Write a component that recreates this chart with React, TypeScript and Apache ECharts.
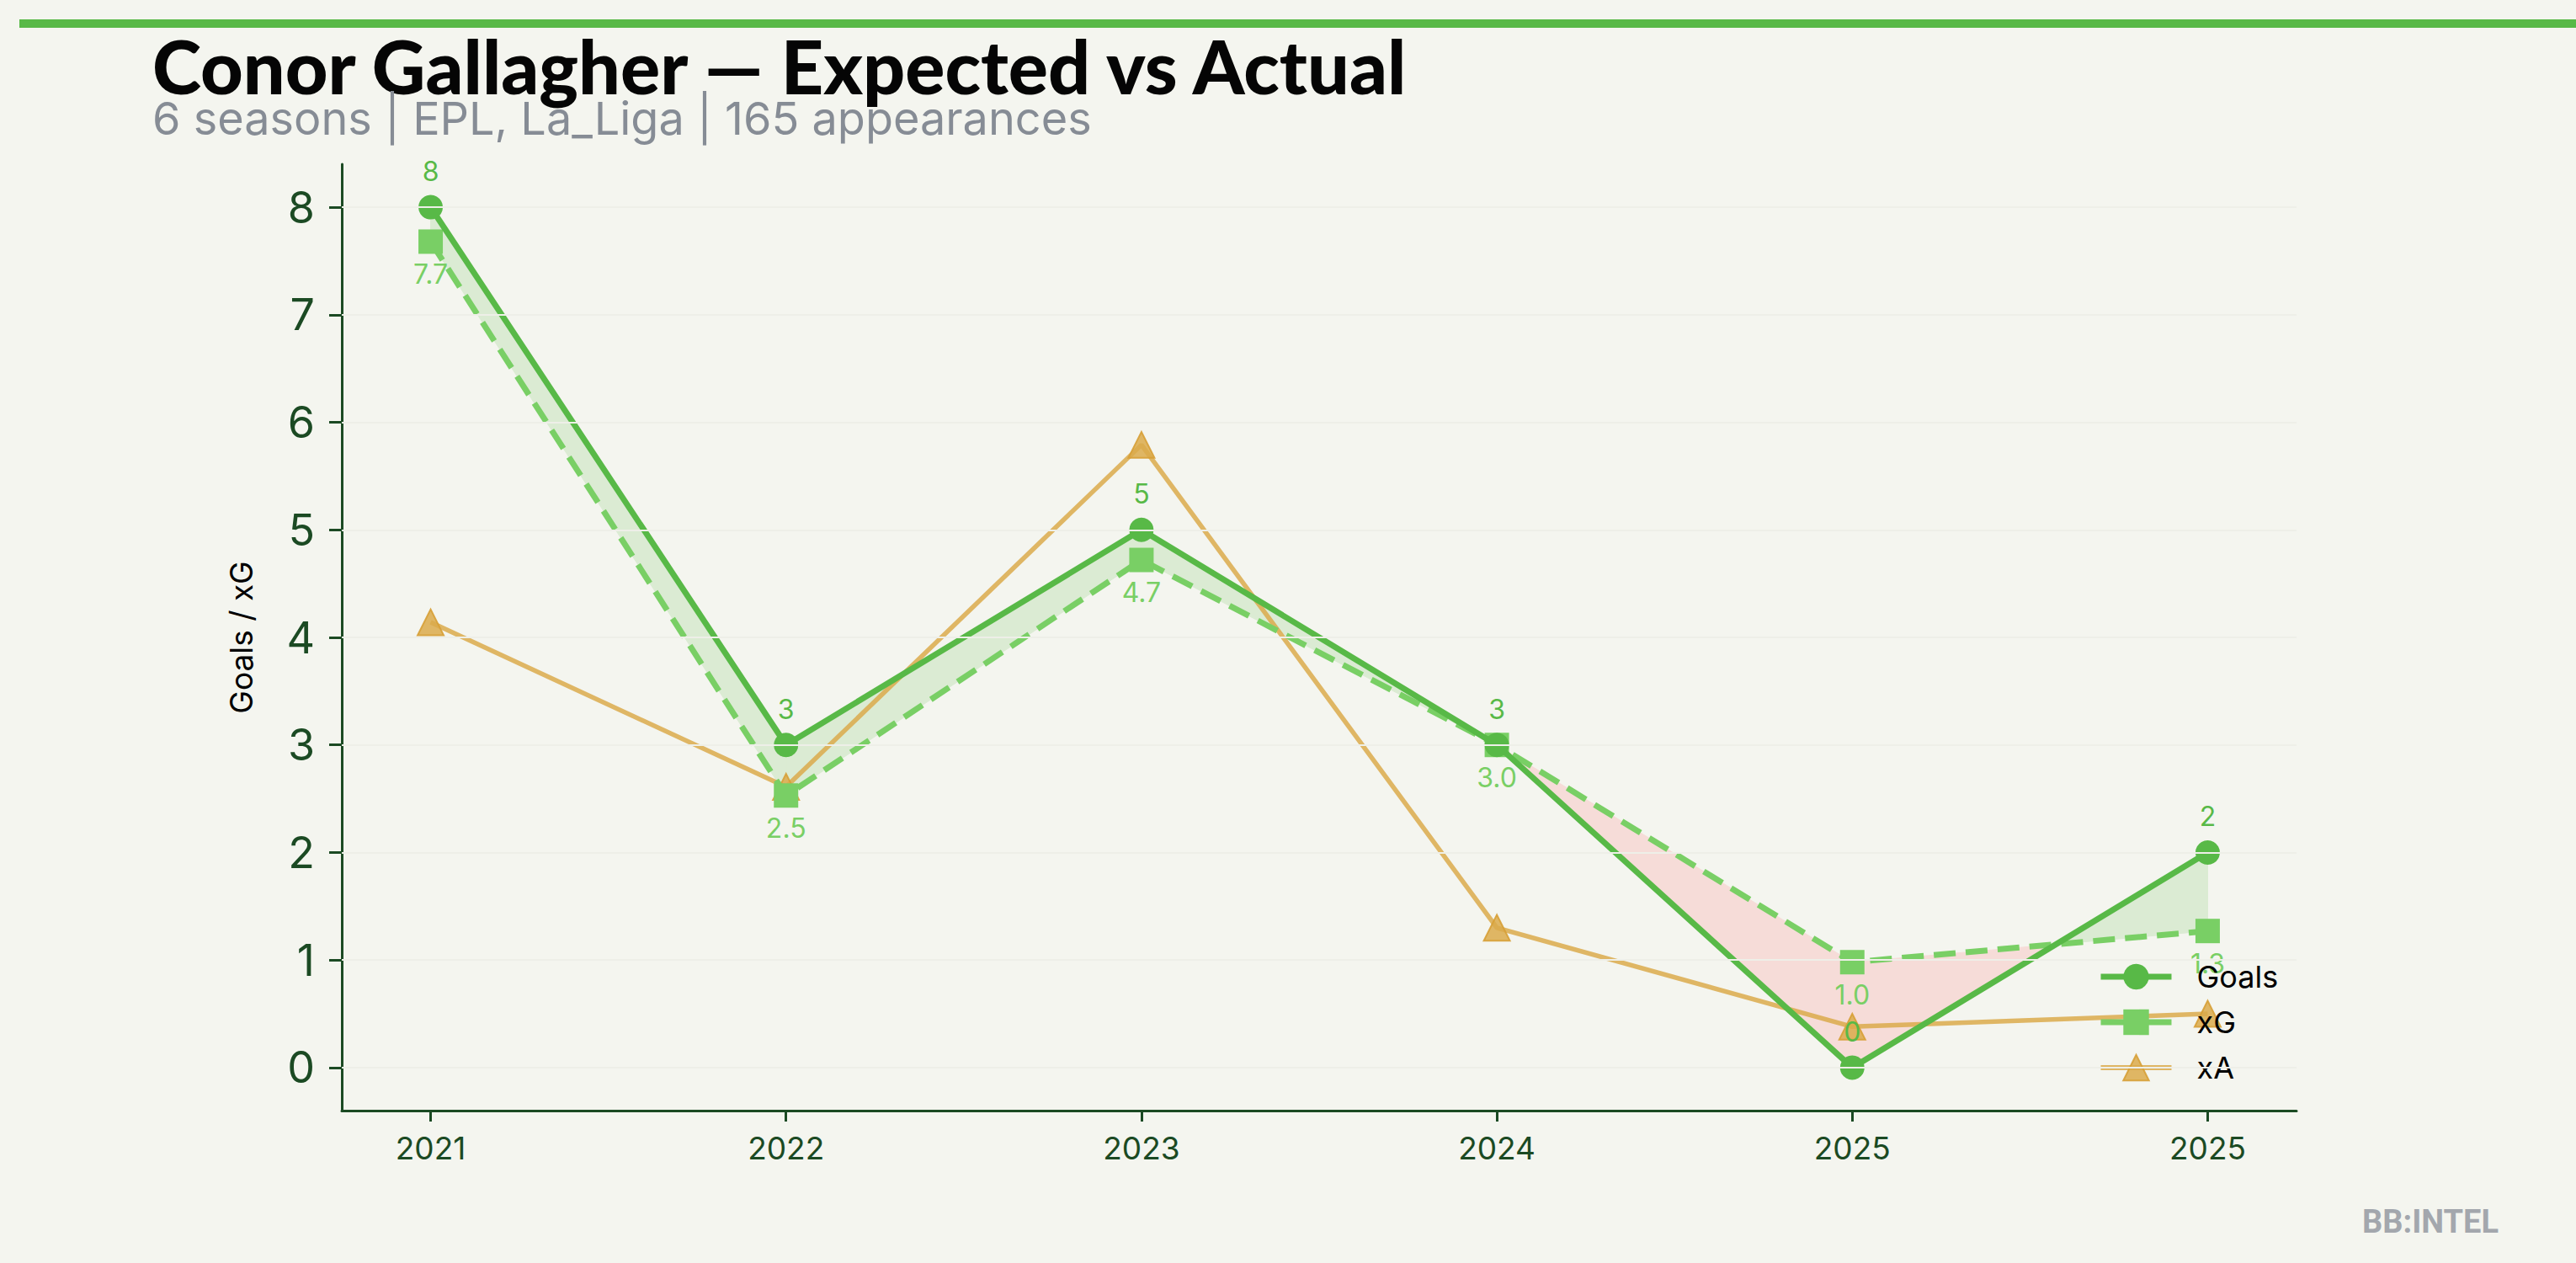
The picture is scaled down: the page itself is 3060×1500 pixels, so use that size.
import React, { useEffect, useRef } from "react";
import * as echarts from "echarts";

const seasons = ["2021", "2022", "2023", "2024", "2025", "2025"];
const goals = [8, 3, 5, 3, 0, 2];
const xg = [7.68, 2.53, 4.72, 3.0, 0.98, 1.27];
const xa = [4.14, 2.61, 5.79, 1.3, 0.38, 0.5];
const yTicks = [0, 1, 2, 3, 4, 5, 6, 7, 8];
const xTicks = [0, 1, 2, 3, 4, 5];

const BG = "#f4f5ef";
const GREEN = "#58b947";
const LIGHT_GREEN = "#79cf65";
const GOLD = "rgba(218,170,75,0.85)";
const AXIS = "#1b4a23";
const FILL_UP = "#dbebd3";
const FILL_DOWN = "#f6dcd8";

export default function App() {
  const ref = useRef<HTMLDivElement>(null);
  useEffect(() => {
    document.body.style.margin = "0";
    document.body.style.background = BG;
    const chart = echarts.init(ref.current!, null, { renderer: "svg" });
    const n = goals.length;
    const option: any = {
      animation: false,
      backgroundColor: BG,
      grid: { left: 406, right: 332, top: 195, bottom: 181 },
      xAxis: {
        type: "value",
        min: -0.25,
        max: 5.25,
        splitLine: { show: false },
        axisLine: { show: true, onZero: false, lineStyle: { color: AXIS, width: 3 } },
        axisTick: { show: true, customValues: xTicks, length: 13, lineStyle: { color: AXIS, width: 3 } },
        axisLabel: {
          customValues: xTicks,
          formatter: (v: number) => seasons[Math.round(v)],
          color: AXIS,
          fontSize: 37,
          fontFamily: "Inter",
          margin: 26,
        },
      },
      yAxis: {
        type: "value",
        min: -0.4,
        max: 8.4,
        name: "Goals / xG",
        nameLocation: "middle",
        nameRotate: 90,
        nameGap: 101,
        nameTextStyle: { color: "#000", fontSize: 37, fontFamily: "Inter" },
        splitLine: { show: false },
        axisLine: { show: true, onZero: false, lineStyle: { color: AXIS, width: 3 } },
        axisTick: { show: true, customValues: yTicks, length: 15, lineStyle: { color: AXIS, width: 3 } },
        axisLabel: {
          customValues: yTicks,
          color: AXIS,
          fontSize: 52,
          fontFamily: "Inter",
          margin: 32,
        },
      },
      legend: {
        orient: "vertical",
        left: 2487,
        top: 1137,
        itemWidth: 84,
        itemHeight: 38,
        itemGap: 18,
        textStyle: {
          color: "#000",
          fontSize: 36,
          fontFamily: "Inter",
          padding: [0, 0, 0, 25],
        },
        data: [
          { name: "Goals", lineStyle: { width: 7 } },
          { name: "xG", lineStyle: { width: 7, type: "solid" } },
          { name: "xA", lineStyle: { width: 6 } },
        ],
      },
      series: [
        {
          name: "grid",
          type: "line",
          data: [],
          z: 0,
          silent: true,
          markLine: {
            silent: true,
            symbol: "none",
            label: { show: false },
            lineStyle: { color: "#eeefe8", width: 2, type: "solid" },
            data: yTicks.map((v) => ({ yAxis: v })),
          },
        },
        {
          name: "fill",
          type: "custom",
          z: 1,
          silent: true,
          data: [[0, 0]],
          encode: { x: 0, y: 1 },
          renderItem: (params: any, api: any) => {
            if (params.dataIndex !== 0) return null;
            const children: any[] = [];
            const poly = (pts: number[][], fill: string) => {
              children.push({
                type: "polygon",
                shape: { points: pts.map((p) => api.coord(p)) },
                style: { fill, stroke: fill, lineWidth: 1 },
              });
            };
            for (let i = 0; i < n - 1; i++) {
              const d0 = goals[i] - xg[i];
              const d1 = goals[i + 1] - xg[i + 1];
              if (d0 * d1 < 0) {
                const t = d0 / (d0 - d1);
                const xc = i + t;
                const yc = goals[i] + t * (goals[i + 1] - goals[i]);
                poly([[i, goals[i]], [xc, yc], [i, xg[i]]], d0 > 0 ? FILL_UP : FILL_DOWN);
                poly([[xc, yc], [i + 1, goals[i + 1]], [i + 1, xg[i + 1]]], d1 > 0 ? FILL_UP : FILL_DOWN);
              } else {
                const up = d0 + d1 >= 0;
                poly(
                  [[i, goals[i]], [i + 1, goals[i + 1]], [i + 1, xg[i + 1]], [i, xg[i]]],
                  up ? FILL_UP : FILL_DOWN
                );
              }
            }
            return { type: "group", children };
          },
        },
        {
          name: "xA",
          type: "line",
          z: 2,
          data: xa.map((v, i) => [i, v]),
          symbol: "triangle",
          symbolSize: 31,
          itemStyle: { color: GOLD, borderColor: "rgba(215,160,55,0.9)", borderWidth: 2 },
          lineStyle: { color: GOLD, width: 5.5 },
          label: { show: false },
        },
        {
          name: "xG",
          type: "line",
          z: 3,
          data: xg.map((v, i) => [i, v]),
          symbol: "rect",
          symbolSize: 29,
          itemStyle: { color: LIGHT_GREEN },
          lineStyle: { color: LIGHT_GREEN, width: 7, type: [26, 12] },
          label: {
            show: true,
            position: "bottom",
            distance: 8,
            color: LIGHT_GREEN,
            fontSize: 32,
            fontFamily: "Inter",
            formatter: (p: any) => p.value[1].toFixed(1),
          },
        },
        {
          name: "Goals",
          type: "line",
          z: 4,
          data: goals.map((v, i) => [i, v]),
          symbol: "circle",
          symbolSize: 29,
          itemStyle: { color: GREEN },
          lineStyle: { color: GREEN, width: 7 },
          label: {
            show: true,
            position: "top",
            distance: 12,
            color: GREEN,
            fontSize: 32,
            fontFamily: "Inter",
            formatter: (p: any) => String(p.value[1]),
          },
        },
      ],
      graphic: [
        {
          type: "rect",
          shape: { x: 23, y: 23, width: 3037, height: 10 },
          style: { fill: GREEN },
          silent: true,
        },
        {
          type: "text",
          x: 181,
          y: 78,
          style: {
            text: "Conor Gallagher — Expected vs Actual",
            fontFamily: "Lato",
            fontWeight: 900,
            fontSize: 88,
            fill: "#050505",
            verticalAlign: "middle",
            align: "left",
          },
        },
        {
          type: "text",
          x: 181,
          y: 140,
          style: {
            text: "6 seasons | EPL, La_Liga | 165 appearances",
            fontFamily: "Inter",
            fontSize: 54,
            fill: "#868c95",
            verticalAlign: "middle",
            align: "left",
          },
        },
        {
          type: "text",
          x: 2887,
          y: 1451,
          style: {
            text: "BB:INTEL",
            fontFamily: "Roboto",
            fontWeight: "bold",
            fontSize: 38,
            fill: "#a3a7ad",
            verticalAlign: "middle",
            align: "center",
          },
        },
      ],
    };
    chart.setOption(option);
    return () => chart.dispose();
  }, []);
  return <div ref={ref} style={{ width: 3060, height: 1500, background: BG }} />;
}
